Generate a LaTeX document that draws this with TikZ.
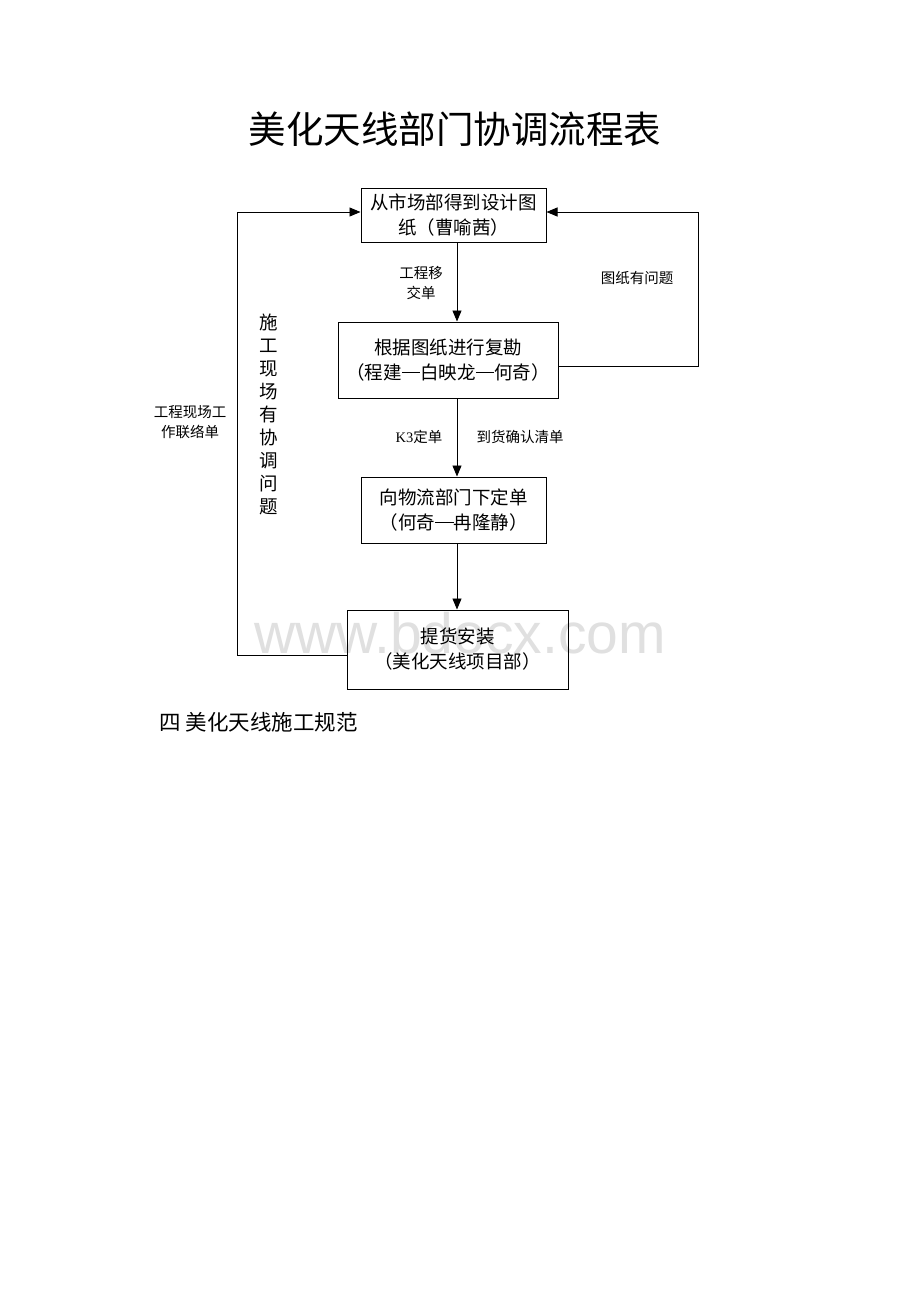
\documentclass[tikz,border=0pt]{standalone}
\usepackage{fontspec}
\setmainfont{Liberation Serif}
\newfontfamily\cjk{Noto Sans CJK SC}
\newfontfamily\lat{Liberation Serif}
\newfontfamily\wm{Liberation Sans}
\usetikzlibrary{arrows.meta}
\newcommand{\cdash}{\rule[0.33em]{1em}{0.06em}}
\begin{document}
\begin{tikzpicture}[x=1pt,y=-1pt,
  box/.style={draw,line width=1pt,align=center,inner sep=0pt,
    font=\cjk\fontsize{18.5}{25}\selectfont},
  arr/.style={line width=0.9pt,-{Triangle[length=11pt,width=9pt]}},
  lbl/.style={align=center,font=\cjk\fontsize{14.5}{20}\selectfont},
]
\useasboundingbox (0,0) rectangle (920,1302);
\fill[white] (0,0) rectangle (920,1302);

% watermark
\node[text=black!12,font=\wm\fontsize{57}{57}\selectfont] (wm) at (460,633) {www.bdocx.com};

% title
\node[font=\cjk\fontsize{37.5}{40}\selectfont] (title) at (455,129) {美化天线部门协调流程表};

% boxes
\node[box,minimum width=185,minimum height=54] (b1) at (453.5,215) {从市场部得到设计图\\纸（曹喻茜）};
\node[box,minimum width=220,minimum height=76] (b2) at (448,360) {根据图纸进行复勘\\（程建\cdash 白映龙\cdash 何奇）};
\node[box,minimum width=185,minimum height=66] (b3) at (453.5,510) {向物流部门下定单\\（何奇\cdash 冉隆静）};
\node[box,minimum width=221,minimum height=79] (b4) at (457.5,649.5) {提货安装\\（美化天线项目部）};

\coordinate (ax) at (457,0);
\coordinate (rx) at (698,0);
\coordinate (lx) at (237,0);
\coordinate (ty) at (0,212);
\coordinate (ry) at (0,366);
\coordinate (ly) at (0,655);

\draw[arr] (b1.south -| ax) -- (b2.north -| ax);
\draw[arr] (b2.south -| ax) -- (b3.north -| ax);
\draw[arr] (b3.south -| ax) -- (b4.north -| ax);
\draw[arr] (b2.east |- ry) -- (rx |- ry) |- (b1.east |- ty);
\draw[arr] (b4.west |- ly) -- (lx |- ly) |- (b1.west |- ty);

% labels
\node[lbl] (l1) at (421,283) {工程移\\交单};
\node[lbl] (l2) at (637,278) {图纸有问题};
\node[lbl] (l3) at (419,437) {{\lat K3}定单};
\node[lbl] (l4) at (520,437) {到货确认清单};
\node[lbl] (l5) at (190,422) {工程现场工\\作联络单};
\node[align=center,font=\cjk\fontsize{18.5}{23}\selectfont] (l6) at (269,414)
  {施\\工\\现\\场\\有\\协\\调\\问\\题};

% footer heading
\node[anchor=west,font=\cjk\fontsize{21.5}{24}\selectfont] (h4) at (156,722) {四 美化天线施工规范};
\end{tikzpicture}
\end{document}
